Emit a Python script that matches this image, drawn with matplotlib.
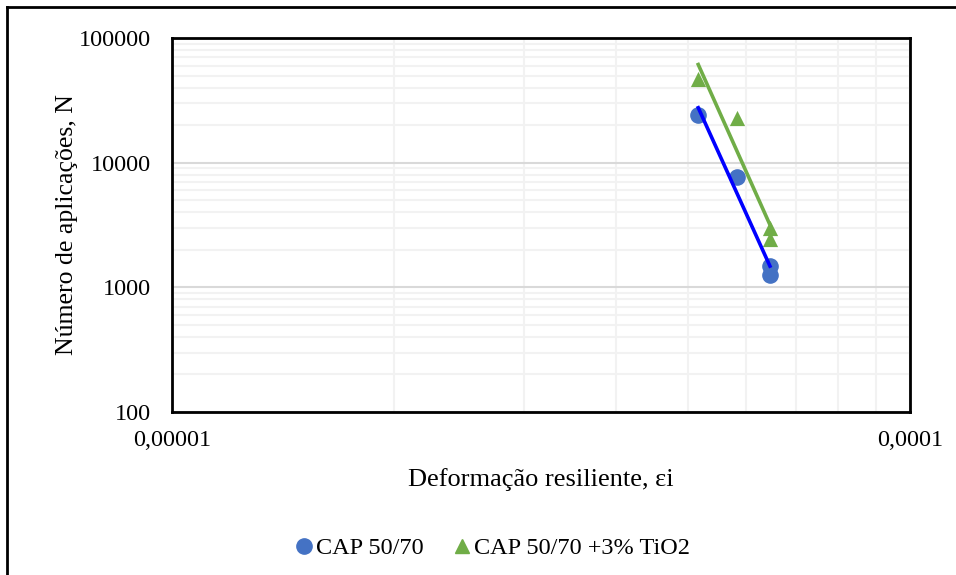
import matplotlib.pyplot as plt
import numpy as np
from matplotlib.lines import Line2D
from matplotlib.ticker import FixedLocator, NullFormatter

plt.rcParams['font.family'] = ['Liberation Serif', 'DejaVu Serif']

# leitura aproximada do grafico
def_cap = [5.165e-5, 5.82e-5, 6.46e-5, 6.46e-5]
n_cap = [24100, 7730, 1490, 1260]
def_tio2 = [5.165e-5, 5.82e-5, 6.46e-5, 6.46e-5]
n_tio2 = [46500, 22800, 3000, 2450]

azul = '#4472C4'
verde = '#70AD47'


def ajuste_potencia(x, y):
    # linha de tendencia tipo potencia (reta em log-log)
    b, a = np.polyfit(np.log10(x), np.log10(y), 1)
    xs = np.array([min(x), max(x)])
    return xs, 10 ** (a + b * np.log10(xs))


fig = plt.figure(figsize=(9.56, 5.75), dpi=100)
ax = fig.add_axes([172 / 956, 1 - 412 / 575, 738 / 956, 374 / 575])

ax.set_xscale('log')
ax.set_yscale('log')
ax.set_xlim(1e-5, 1e-4)
ax.set_ylim(100, 100000)

ax.xaxis.set_major_locator(FixedLocator([1e-5, 1e-4]))
ax.xaxis.set_minor_locator(FixedLocator([k * 1e-5 for k in range(2, 10)]))
ax.yaxis.set_major_locator(FixedLocator([100, 1000, 10000, 100000]))
ax.yaxis.set_minor_locator(FixedLocator([k * 10 ** e for e in (2, 3, 4) for k in range(2, 10)]))
ax.set_xticklabels(['0,00001', '0,0001'])
ax.set_yticklabels(['100', '1000', '10000', '100000'])
ax.xaxis.set_minor_formatter(NullFormatter())
ax.yaxis.set_minor_formatter(NullFormatter())
ax.tick_params(which='both', length=0, labelsize=17.5)
ax.tick_params(axis='x', pad=13)
ax.tick_params(axis='y', pad=15)

ax.grid(True, which='major', color='#d9d9d9', linewidth=1.5)
ax.grid(True, which='minor', color='#f2f2f2', linewidth=1.5)
ax.set_axisbelow(True)
for s in ax.spines.values():
    s.set_color('black')
    s.set_linewidth(2)

ax.scatter(def_cap, n_cap, s=120, color=azul, zorder=3)
ax.scatter(def_tio2, n_tio2, s=120, marker='^', color=verde, zorder=3, linewidths=0)

xs, ys = ajuste_potencia(def_cap, n_cap)
ax.plot(xs, ys, color='#0000FF', linewidth=2.6, zorder=4)
xs, ys = ajuste_potencia(def_tio2, n_tio2)
ax.plot(xs, ys, color=verde, linewidth=2.6, zorder=4)

ax.set_xlabel('Deformação resiliente, εi', fontsize=19, labelpad=12)
ax.set_ylabel('Número de aplicações, N', fontsize=18.5, labelpad=1)

handles = [
    Line2D([], [], marker='o', linestyle='none', color=azul, markersize=11),
    Line2D([], [], marker='^', linestyle='none', color=verde, markersize=10),
]
fig.legend(handles, ['CAP 50/70', 'CAP 50/70 +3% TiO2'], loc='center',
           bbox_to_anchor=(491 / 956, 1 - 548 / 575), ncol=2, frameon=False,
           fontsize=17.5, handletextpad=0.0, columnspacing=1.05, handlelength=1.0)

# moldura da figura (cortada a direita e embaixo)
fig.add_artist(Line2D([7 / 956, 7 / 956], [0, 1 - 7 / 575], color='black', linewidth=2))
fig.add_artist(Line2D([7 / 956, 1], [1 - 7 / 575, 1 - 7 / 575], color='black', linewidth=2))

fig.savefig('out.png', dpi=100)
